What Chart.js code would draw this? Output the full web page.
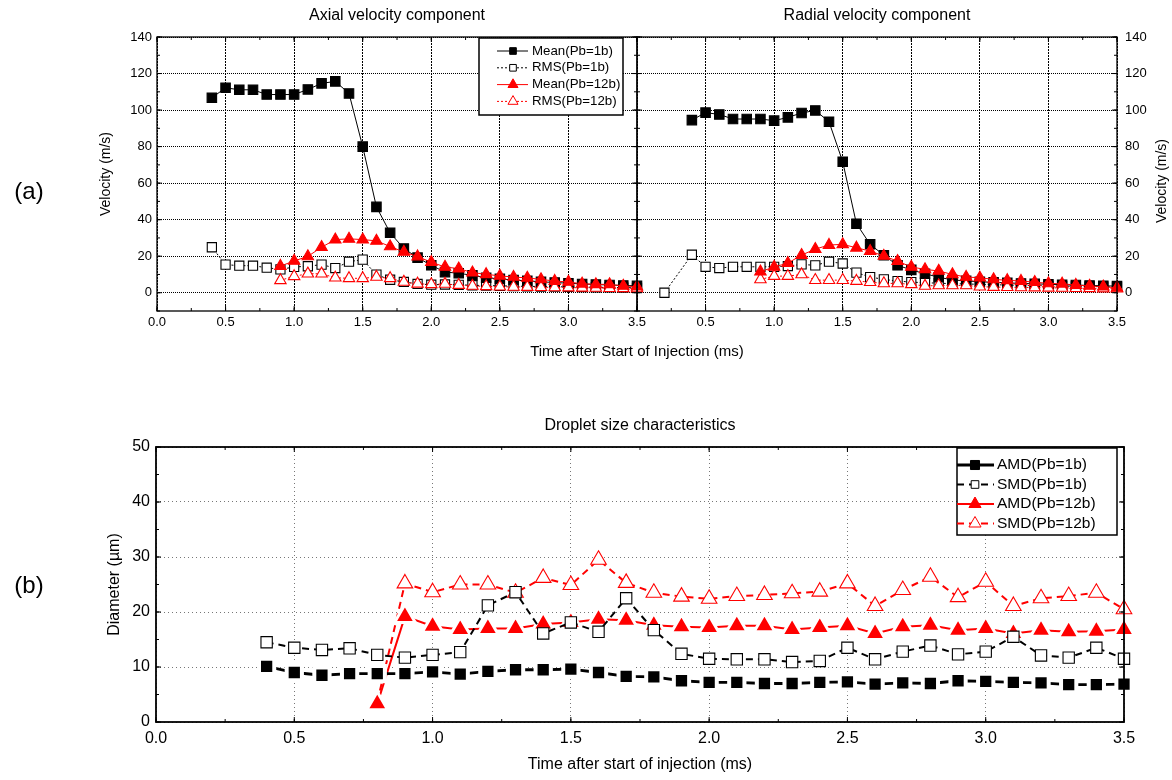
<!DOCTYPE html>
<html>
<head>
<meta charset="utf-8">
<title>Velocity components and droplet size</title>
<script src="https://cdn.jsdelivr.net/npm/chart.js@4.4.1/dist/chart.umd.min.js"></script>
<style>
  body { margin:0; background:#fff; width:1172px; height:780px; position:relative; overflow:hidden;
         font-family:"Liberation Sans", Arial, sans-serif; color:#000; }
  canvas { position:absolute; }
  .lbl { position:absolute; white-space:nowrap; transform:translate(-50%,-50%); }
</style>
</head>
<body>
<canvas id="axial" width="660" height="370" style="left:0;top:0"></canvas>
<canvas id="radial" width="612" height="370" style="left:560px;top:0"></canvas>
<canvas id="droplet" width="1172" height="380" style="left:0;top:400px"></canvas>
<div class="lbl" style="left:29px;top:191px;font-size:24px">(a)</div>
<div class="lbl" style="left:29px;top:585px;font-size:24px">(b)</div>
<div class="lbl" style="left:637px;top:350px;font-size:15px">Time after Start of Injection (ms)</div>
<div class="lbl" style="left:1161px;top:181px;font-size:14px;transform:translate(-50%,-50%) rotate(-90deg)">Velocity (m/s)</div>
<script>
// time after start of injection (ms)
var T_1B      = [0.4, 0.5, 0.6, 0.7, 0.8, 0.9, 1.0, 1.1, 1.2, 1.3, 1.4, 1.5, 1.6, 1.7, 1.8, 1.9,
                 2.0, 2.1, 2.2, 2.3, 2.4, 2.5, 2.6, 2.7, 2.8, 2.9, 3.0, 3.1, 3.2, 3.3, 3.4, 3.5];
var T_12B     = [0.9, 1.0, 1.1, 1.2, 1.3, 1.4, 1.5, 1.6, 1.7, 1.8, 1.9, 2.0, 2.1, 2.2, 2.3, 2.4,
                 2.5, 2.6, 2.7, 2.8, 2.9, 3.0, 3.1, 3.2, 3.3, 3.4, 3.5];
var T_RAD_RMS = [0.2, 0.4, 0.5, 0.6, 0.7, 0.8, 0.9, 1.0, 1.1, 1.2, 1.3, 1.4, 1.5, 1.6, 1.7, 1.8, 1.9,
                 2.0, 2.1, 2.2, 2.3, 2.4, 2.5, 2.6, 2.7, 2.8, 2.9, 3.0, 3.1, 3.2, 3.3, 3.4, 3.5];
var T_D12     = [0.8, 0.9, 1.0, 1.1, 1.2, 1.3, 1.4, 1.5, 1.6, 1.7, 1.8, 1.9, 2.0, 2.1, 2.2, 2.3,
                 2.4, 2.5, 2.6, 2.7, 2.8, 2.9, 3.0, 3.1, 3.2, 3.3, 3.4, 3.5];

// axial velocity (m/s)
var AXIAL_MEAN_1B  = [106.7, 112.2, 111.1, 111.1, 108.5, 108.5, 108.5, 111.3, 114.6, 115.7, 109.1, 80.0, 47.0, 32.8, 24.2,
                      19.2, 15.0, 11.3, 10.7, 9.5, 8.2, 7.6, 7.0, 6.5, 6.0, 5.6, 5.2, 4.8, 4.5, 4.2, 4.0, 3.8];
var AXIAL_RMS_1B   = [24.9, 15.4, 14.8, 14.8, 13.7, 12.8, 14.1, 14.5, 15.4, 13.5, 17.0, 18.1, 9.9, 7.1, 5.9,
                      4.8, 4.4, 4.5, 4.3, 4.1, 3.9, 3.8, 3.6, 3.5, 3.4, 3.3, 3.2, 3.1, 3.0, 2.9, 2.8, 2.7];
var AXIAL_MEAN_12B = [14.6, 17.4, 19.9, 24.9, 29.1, 29.5, 29.1, 28.4, 25.3, 22.3, 19.8, 16.7, 14.1, 13.2,
                      11.0, 10.1, 9.2, 8.6, 8.1, 7.3, 6.4, 5.9, 4.9, 4.6, 4.6, 3.7, 3.3];
var AXIAL_RMS_12B  = [6.8, 9.0, 10.4, 10.4, 8.2, 7.9, 7.9, 8.6, 7.9, 5.9, 4.9, 4.6, 4.8, 4.2,
                      3.7, 3.5, 3.3, 3.2, 3.1, 3.0, 2.9, 2.8, 2.7, 2.6, 2.5, 2.4, 2.3];

// radial velocity (m/s)
var RADIAL_MEAN_1B  = [94.5, 98.6, 97.6, 95.1, 95.1, 95.1, 94.2, 96.0, 98.4, 99.8, 93.6, 71.7, 37.8, 26.5, 20.5,
                       15.0, 12.5, 10.4, 8.5, 7.0, 6.5, 6.0, 5.7, 5.4, 5.1, 4.9, 4.6, 4.4, 4.2, 4.0, 3.8, 3.6];
var RADIAL_RMS_1B   = [0.0, 20.8, 14.2, 13.5, 14.2, 14.2, 14.2, 14.2, 14.6, 15.5, 15.0, 17.0, 16.0, 11.0, 8.6, 7.3,
                       6.4, 5.8, 5.5, 5.2, 5.0, 4.8, 4.6, 4.4, 4.2, 4.0, 3.9, 3.8, 3.6, 3.5, 3.4, 3.3, 3.2];
var RADIAL_MEAN_12B = [11.5, 14.1, 16.2, 20.6, 23.9, 26.1, 26.5, 24.6, 22.8, 20.1, 17.3, 14.1, 12.8, 11.9,
                       10.0, 8.6, 8.2, 7.3, 6.8, 6.4, 5.8, 5.1, 4.9, 4.2, 3.7, 3.3, 2.7];
var RADIAL_RMS_12B  = [7.3, 9.1, 9.1, 10.0, 6.9, 6.9, 6.9, 6.4, 5.8, 5.1, 5.1, 4.6, 3.7, 4.0,
                       4.0, 4.0, 3.3, 3.1, 3.0, 2.9, 2.8, 2.7, 2.6, 2.5, 2.4, 2.3, 2.2];

// droplet diameter (um)
var AMD_1B  = [10.1, 9.0, 8.5, 8.8, 8.8, 8.8, 9.1, 8.7, 9.2, 9.5, 9.5, 9.6, 9.0, 8.3, 8.2, 7.5,
               7.2, 7.2, 7.0, 7.0, 7.2, 7.3, 6.9, 7.1, 7.0, 7.5, 7.4, 7.2, 7.1, 6.8, 6.8, 6.9];
var SMD_1B  = [14.5, 13.5, 13.1, 13.4, 12.2, 11.7, 12.2, 12.7, 21.2, 23.6, 16.1, 18.1, 16.4, 22.5, 16.7, 12.4,
               11.5, 11.4, 11.4, 10.9, 11.1, 13.5, 11.4, 12.8, 13.9, 12.3, 12.8, 15.5, 12.1, 11.7, 13.5, 11.5];
var AMD_12B = [3.3, 19.2, 17.4, 16.8, 17.0, 17.0, 17.8, 18.1, 18.7, 18.5, 17.6, 17.3, 17.2, 17.5,
               17.5, 16.8, 17.2, 17.5, 16.1, 17.3, 17.6, 16.7, 17.0, 16.1, 16.7, 16.4, 16.5, 16.8];
var SMD_12B = [3.6, 25.2, 23.6, 25.0, 25.0, 23.5, 26.2, 24.9, 29.5, 25.3, 23.5, 22.8, 22.4, 22.9,
               23.1, 23.4, 23.7, 25.2, 21.1, 24.0, 26.4, 22.7, 25.5, 21.1, 22.5, 22.9, 23.5, 20.5];

// tick labels
var TIME_TICKS = [0.0, 0.5, 1.0, 1.5, 2.0, 2.5, 3.0, 3.5];
var VEL_TICKS  = [0, 20, 40, 60, 80, 100, 120, 140];
var DIA_TICKS  = [0, 10, 20, 30, 40, 50];

var FONT = '"Liberation Sans", Arial, sans-serif';
var RED  = '#ff0000';

Chart.defaults.font.family = FONT;
Chart.defaults.color = '#000';


function pts(xs, ys){
    return xs.map(function(x, i){ return {x: x, y: ys[i]}; });
}

function marker(ctx, style, x, y, r){
    ctx.beginPath();
    if (style === 'rect'){
        let s = r * Math.SQRT1_2;
        ctx.rect(x - s, y - s, 2 * s, 2 * s);
    }
    else{
        ctx.moveTo(x, y - r);
        ctx.lineTo(x + r * 0.866, y + r * 0.5);
        ctx.lineTo(x - r * 0.866, y + r * 0.5);
        ctx.closePath();
    }
    ctx.fill();
    ctx.stroke();
}

//halo > 0 : 白い縁取りで線とマーカーの間に隙間を作る(塗りつぶしマーカー用)
function series(label, xs, ys, color, style, filled, dash, width, r, legendR, halo){
    return {
        label: label,
        data: pts(xs, ys),
        showLine: true,
        borderColor: color,
        borderWidth: width,
        borderDash: dash,
        pointStyle: style,
        pointRadius: r,
        pointHoverRadius: r,
        pointBackgroundColor: filled ? color : '#fff',
        pointBorderColor: halo ? '#fff' : color,
        pointBorderWidth: halo ? halo : 1.1,
        legendRadius: legendR,
        clip: false
    };
}

//枠と内向きの目盛り
var frameTicks = {
    id: 'frameTicks',
    afterDatasetsDraw: function(chart, args, o){
        let ctx = chart.ctx, a = chart.chartArea;
        ctx.save();
        ctx.strokeStyle = '#000';
        ctx.lineWidth = 1;
        ctx.setLineDash([]);
        ctx.beginPath();
        function along(scale, step, len, horizontal){
            for (let v = Math.ceil(scale.min / step - 1e-9) * step; v <= scale.max + 1e-9; v += step){
                let p = scale.getPixelForValue(v);
                if (horizontal){
                    ctx.moveTo(p, a.bottom); ctx.lineTo(p, a.bottom - len);
                    ctx.moveTo(p, a.top);    ctx.lineTo(p, a.top + len);
                }
                else{
                    ctx.moveTo(a.left, p);  ctx.lineTo(a.left + len, p);
                    ctx.moveTo(a.right, p); ctx.lineTo(a.right - len, p);
                }
            }
        }
        along(chart.scales.x, o.xMinor, o.minor, true);
        along(chart.scales.x, o.xMajor, o.major, true);
        along(chart.scales.y, o.yMinor, o.minor, false);
        along(chart.scales.y, o.yMajor, o.major, false);
        ctx.stroke();
        ctx.lineWidth = o.frame;
        ctx.strokeRect(a.left, a.top, a.right - a.left, a.bottom - a.top);
        ctx.restore();
    }
};

//枠付きの凡例(線+マーカー)
var boxLegend = {
    id: 'boxLegend',
    afterDraw: function(chart, args, o){
        let ctx = chart.ctx, a = chart.chartArea;
        let left = a.right - o.right - o.width, top = a.top + o.top;
        ctx.save();
        ctx.fillStyle = '#fff';
        ctx.fillRect(left, top, o.width, o.height);
        ctx.lineWidth = o.frame;
        ctx.strokeStyle = '#000';
        ctx.strokeRect(left, top, o.width, o.height);
        ctx.font = o.font;
        ctx.textBaseline = 'middle';
        chart.data.datasets.forEach(function(ds, i){
            let y = top + o.first + i * o.row;
            ctx.strokeStyle = ds.borderColor;
            ctx.lineWidth = ds.borderWidth;
            ctx.setLineDash(ds.borderDash);
            ctx.beginPath();
            ctx.moveTo(left + o.line[0], y);
            ctx.lineTo(left + o.line[1], y);
            ctx.stroke();
            ctx.setLineDash([]);
            ctx.lineWidth = 1;
            ctx.fillStyle = ds.pointBackgroundColor;
            marker(ctx, ds.pointStyle, left + o.mark, y, ds.legendRadius);
            ctx.fillStyle = '#000';
            ctx.fillText(ds.label, left + o.text, y);
        });
        ctx.restore();
    }
};

function timeAxis(hideZero, size, pad, height, gridColor, dash){
    return {
        type: 'linear', min: 0, max: 3.5,
        afterBuildTicks: function(s){ s.ticks = TIME_TICKS.map(function(v){ return {value: v}; }); },
        afterFit: function(s){ s.height = height; },
        ticks: {
            callback: function(v){ return (hideZero && v === 0) ? '' : v.toFixed(1); },
            font: {size: size}, padding: pad, maxRotation: 0, autoSkip: false
        },
        grid: {color: gridColor, drawTicks: false},
        border: {display: false, dash: dash}
    };
}

function valueAxis(ticks, min, max, side, width, size, pad, gridColor, dash, title){
    return {
        type: 'linear', position: side, min: min, max: max,
        afterBuildTicks: function(s){ s.ticks = ticks.map(function(v){ return {value: v}; }); },
        afterFit: function(s){ s.width = width; },
        ticks: {font: {size: size}, padding: pad},
        grid: {color: gridColor, drawTicks: false},
        border: {display: false, dash: dash},
        title: title
    };
}

function velocityChart(id, titleText, mean1, rmsT, rms1, mean12, rms12, left){
    let datasets = [
        series('Mean(Pb=1b)',  T_1B,  mean1,  '#000', 'rect',     true,  [],     1, 6.7, 4.7),
        series('RMS(Pb=1b)',   rmsT,  rms1,   '#000', 'rect',     false, [2, 2], 1, 6.5, 4.7),
        series('Mean(Pb=12b)', T_12B, mean12, RED,    'triangle', true,  [],     1, 6.6, 5.8),
        series('RMS(Pb=12b)',  T_12B, rms12,  RED,    'triangle', false, [2, 2], 1, 6.6, 5.8)
    ];
    //描画順: Mean(12b)を最前面に
    datasets[0].order = 3;
    datasets[1].order = 4;
    datasets[2].order = 1;
    datasets[3].order = 2;

    let yAxis = left
        ? valueAxis(VEL_TICKS, -10, 140, 'left', 157, 13, 5, '#000', [1, 1],
              {display: true, text: 'Velocity (m/s)', font: {size: 14}, padding: {top: 97.6, bottom: 0}})
        : valueAxis(VEL_TICKS, -10, 140, 'right', 55, 13, 8, '#000', [1, 1], {display: false});

    let plugins = {
        legend: {display: false},
        tooltip: {enabled: false},
        title: {display: true, text: titleText, fullSize: false, font: {size: 16, weight: 'normal'},
                padding: {top: 6.4, bottom: 11.4}},
        frameTicks: {frame: 1.3, xMajor: 0.5, xMinor: 0.25, yMajor: 20, yMinor: 10, major: 5, minor: 3}
    };
    if (left){
        plugins.boxLegend = {right: 14, top: 1, width: 144, height: 77, first: 13, row: 16.8,
                             line: [18, 49], mark: 34, text: 53, frame: 1.5, font: '13.3px ' + FONT};
    }

    return new Chart(document.getElementById(id), {
        type: 'scatter',
        data: {datasets: datasets},
        options: {
            responsive: false,
            animation: false,
            devicePixelRatio: 1,
            layout: {padding: left ? {left: 0, right: 23, top: 0, bottom: 0} : {left: 77, right: 0, top: 0, bottom: 0}},
            scales: {
                x: timeAxis(!left, 13, 4, 59, '#000', [2, 1]),
                y: yAxis
            },
            plugins: plugins
        },
        plugins: left ? [frameTicks, boxLegend] : [frameTicks]
    });
}

velocityChart('axial',  'Axial velocity component',  AXIAL_MEAN_1B,  T_1B,      AXIAL_RMS_1B,  AXIAL_MEAN_12B,  AXIAL_RMS_12B,  true);
velocityChart('radial', 'Radial velocity component', RADIAL_MEAN_1B, T_RAD_RMS, RADIAL_RMS_1B, RADIAL_MEAN_12B, RADIAL_RMS_12B, false);


new Chart(document.getElementById('droplet'), {
    type: 'scatter',
    data: {
        datasets: [
            series('AMD(Pb=1b)',  T_1B,  AMD_1B,  '#000', 'rect',     true,  [],     2.8, 10.8, 6.4, 4),
            series('SMD(Pb=1b)',  T_1B,  SMD_1B,  '#000', 'rect',     false, [7, 5], 2,   8,    5.4),
            series('AMD(Pb=12b)', T_D12, AMD_12B, RED,    'triangle', true,  [],     2,   12,   7,   3),
            series('SMD(Pb=12b)', T_D12, SMD_12B, RED,    'triangle', false, [7, 5], 2,   9,    7)
        ]
    },
    options: {
        responsive: false,
        animation: false,
        devicePixelRatio: 1,
        layout: {padding: {left: 0, right: 48, top: 0, bottom: 0}},
        scales: {
            x: Object.assign(timeAxis(false, 16, 7, 58, '#777', [1, 3]), {
                title: {display: true, text: 'Time after start of injection (ms)', font: {size: 16},
                        padding: {top: 0, bottom: 5.4}}
            }),
            y: valueAxis(DIA_TICKS, 0, 50, 'left', 156, 16, 6, '#777', [1, 3],
                 {display: true, text: 'Diameter (\u00b5m)', font: {size: 16}, padding: {top: 104.9, bottom: 0}})
        },
        plugins: {
            legend: {display: false},
            tooltip: {enabled: false},
            title: {display: true, text: 'Droplet size characteristics', fullSize: false,
                    font: {size: 16, weight: 'normal'}, padding: {top: 16.4, bottom: 11.4}},
            frameTicks: {frame: 1.8, xMajor: 0.5, xMinor: 0.25, yMajor: 10, yMinor: 5, major: 5, minor: 3},
            boxLegend: {right: 7, top: 1, width: 160, height: 87, first: 17, row: 19.5,
                        line: [0, 37], mark: 18, text: 40, frame: 1.5, font: '15.5px ' + FONT}
        }
    },
    plugins: [frameTicks, boxLegend]
});
</script>
</body>
</html>
